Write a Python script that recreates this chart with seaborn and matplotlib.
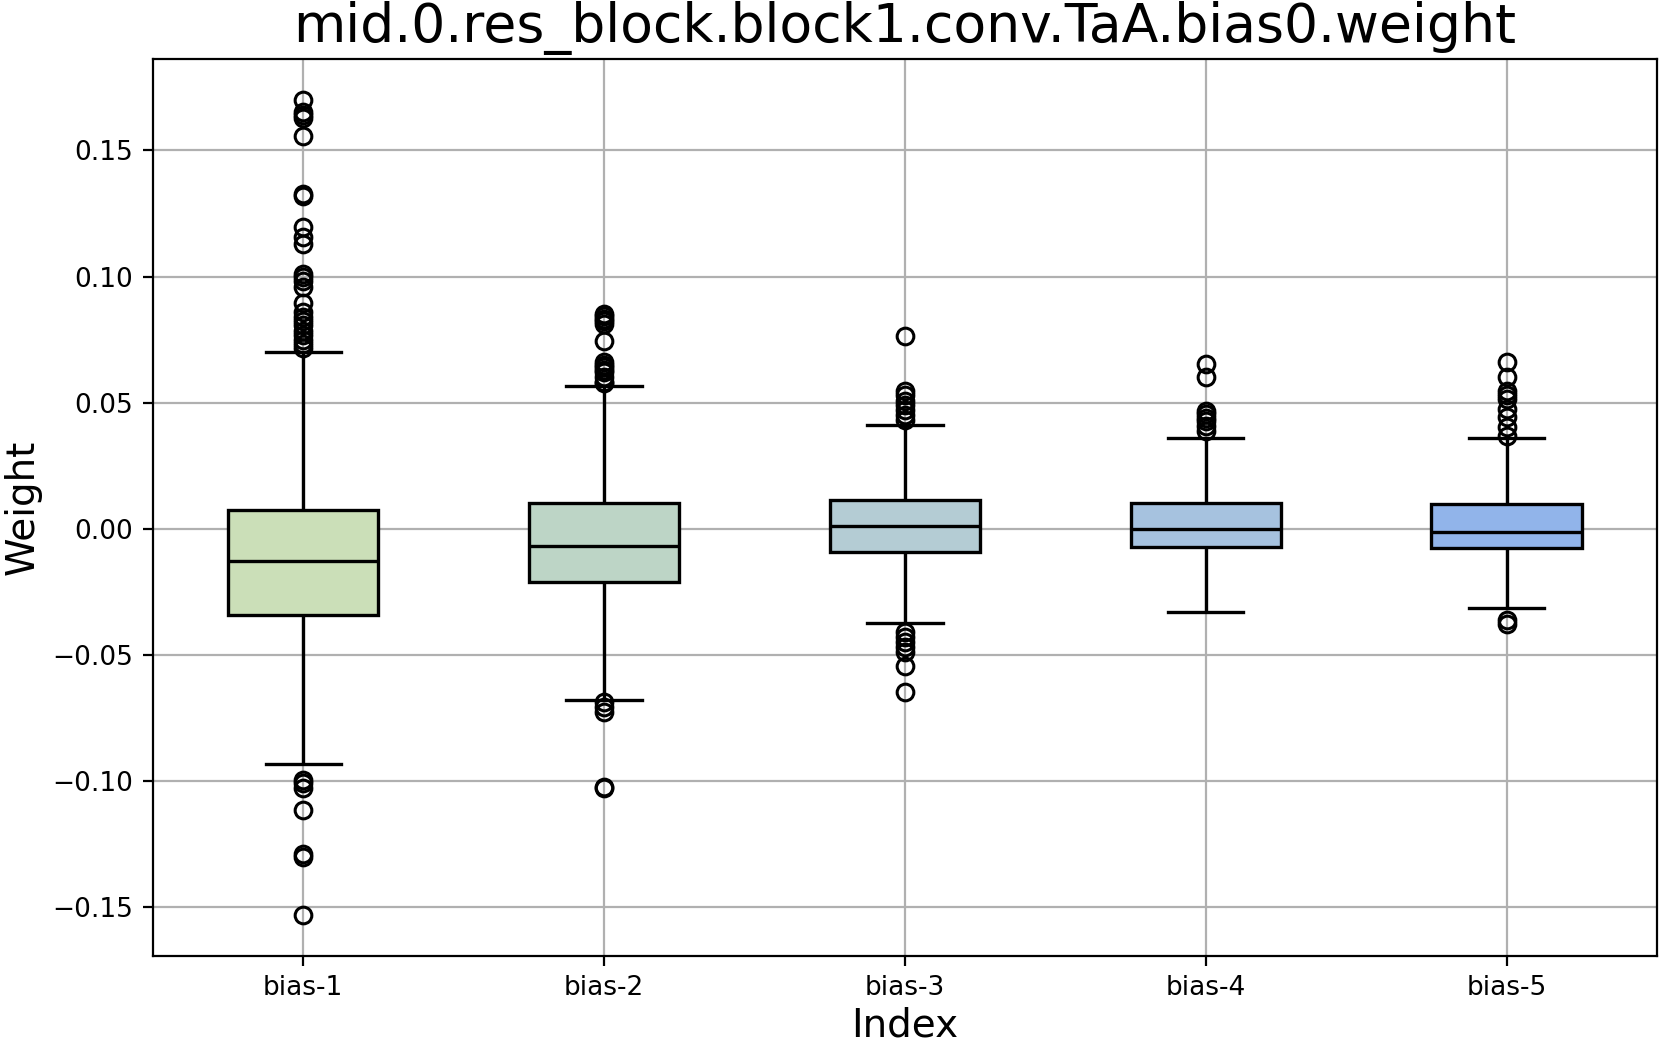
import numpy as np
import pandas as pd
import matplotlib
matplotlib.use("Agg")
import matplotlib.pyplot as plt
import seaborn as sns

# ---- values ----
categories = ["bias-1", "bias-2", "bias-3", "bias-4", "bias-5"]
q1 = [-0.0342, -0.0212, -0.0091, -0.0072, -0.0078]
median = [-0.0130, -0.0067, 0.0010, -0.0002, -0.0015]
q3 = [0.0076, 0.0102, 0.0115, 0.0102, 0.0098]
whisker_lo = [-0.0934, -0.0679, -0.0374, -0.0330, -0.0316]
whisker_hi = [0.0700, 0.0565, 0.0411, 0.0358, 0.0360]
outliers_hi = [
    [0.1701, 0.1652, 0.1639, 0.1630, 0.1556, 0.1328, 0.1321, 0.1198, 0.1156,
     0.1130, 0.1011, 0.1000, 0.0984, 0.0958, 0.0894, 0.0861, 0.0838, 0.0825,
     0.0806, 0.0784, 0.0767, 0.0750, 0.0734, 0.0716],
    [0.0852, 0.0842, 0.0832, 0.0822, 0.0812, 0.0746, 0.0660, 0.0650, 0.0640,
     0.0630, 0.0620, 0.0600, 0.0581, 0.0578],
    [0.0763, 0.0548, 0.0530, 0.0505, 0.0490, 0.0470, 0.0450, 0.0432],
    [0.0653, 0.0603, 0.0468, 0.0456, 0.0440, 0.0429, 0.0409, 0.0389],
    [0.0660, 0.0600, 0.0548, 0.0530, 0.0515, 0.0475, 0.0442, 0.0402, 0.0369],
]
outliers_lo = [
    [-0.0997, -0.1010, -0.1029, -0.1116, -0.1291, -0.1304, -0.1533],
    [-0.0689, -0.0709, -0.0729, -0.1025, -0.1030],
    [-0.0411, -0.0431, -0.0451, -0.0471, -0.0491, -0.0544, -0.0646],
    [],
    [-0.0364, -0.0377],
]
colors = ["#cbdfb8", "#bdd5c6", "#b4ccd4", "#a6c2df", "#91b4ea"]

# ---- expand the summary statistics into samples with those statistics ----
k = 200
rows = []
for i, cat in enumerate(categories):
    vals = (list(outliers_lo[i]) + [whisker_lo[i]] + [q1[i]] * k + [median[i]] * k
            + [q3[i]] * k + [whisker_hi[i]] + list(outliers_hi[i]))
    rows += [(cat, v) for v in vals]
df = pd.DataFrame(rows, columns=["Index", "Weight"])

fig, ax = plt.subplots(figsize=(8.305, 5.225), dpi=200)
fig.subplots_adjust(left=0.092, right=0.9976, top=0.9435, bottom=0.0852)

sns.boxplot(data=df, x="Index", y="Weight", hue="Index", palette=colors,
            order=categories, hue_order=categories, legend=False, saturation=1,
            width=0.5, linecolor="black", linewidth=1.2, whis=1.5, ax=ax,
            flierprops=dict(marker="o", markersize=6, markerfacecolor="none",
                            markeredgecolor="black", markeredgewidth=1.1))

ax.set_axisbelow(True)
ax.grid(True, which="major", axis="both", color="#b0b0b0", linewidth=0.8)
ax.xaxis.grid(True)

ax.set_title("mid.0.res_block.block1.conv.TaA.bias0.weight", fontsize=19.3)
ax.set_xlabel("Index", fontsize=14, labelpad=2)
ax.set_ylabel("Weight", fontsize=14)
ax.tick_params(axis="both", labelsize=9.5)
for s in ax.spines.values():
    s.set_color("black")

fig.savefig("out.png", dpi=200)
